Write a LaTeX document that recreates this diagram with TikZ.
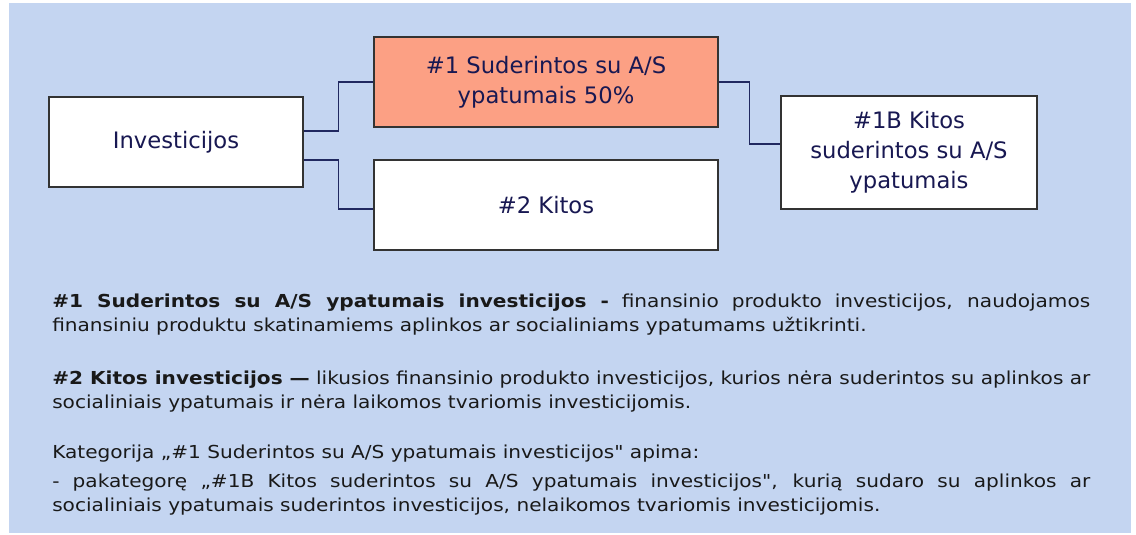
\documentclass[tikz,border=0pt]{standalone}
\usepackage{fontspec}
\setmainfont{DejaVu Sans}
\newfontfamily\notefont{DejaVu Sans}[FakeStretch=1.125]
\usepackage{tikz}
\usetikzlibrary{calc}
\definecolor{skyband}{RGB}{196, 213, 241}
\definecolor{salmon}{RGB}{252, 160, 132}
\definecolor{ink}{RGB}{24, 24, 82}
\definecolor{wire}{RGB}{32, 40, 96}

\begin{document}
\begin{tikzpicture}[x=0.75pt, y=-0.75pt,
  box/.style={draw=black!80, line width=0.9pt, fill=white, text=ink, align=center,
    inner sep=0pt, font=\fontsize{17}{22.5}\selectfont},
  link/.style={draw=wire, line width=0.9pt},
  para/.style={anchor=north west, inner sep=0pt, text width=778.5pt, align=justify,
    text=black!90, font=\notefont\fontsize{13.4}{18}\selectfont}]
  \useasboundingbox (0, 0) rectangle (1136, 535);
  \fill[skyband] (9, 3) rectangle (1131, 533);

  % the tree
  \node[box, minimum width=190.5pt, minimum height=67.5pt] (inv) at (176, 142) {Investicijos};
  \node[box, fill=salmon, minimum width=258pt, minimum height=67.5pt] (s1) at (546, 82)
    {\#1 Suderintos su A/S\\ ypatumais 50\%};
  \node[box, minimum width=258pt, minimum height=67.5pt] (k2) at (546, 205) {\#2 Kitos};
  \node[box, minimum width=192pt, minimum height=84.75pt] (s1b) at (909, 152.5)
    {\#1B Kitos\\ suderintos su A/S\\ ypatumais};

  \coordinate (fork) at ($(inv.east)!0.5!(s1.west |- inv.east)$);
  \coordinate (fork2) at ($(s1.east)!0.5!(s1b.west |- s1.east)$);
  \coordinate (k2in) at ([yshift=-3pt]k2.west);
  \coordinate (s1bin) at ([yshift=6.4pt]s1b.west);
  \draw[link] ([yshift=8.25pt]inv.east) -| (fork |- s1.west) -- (s1.west);
  \draw[link] ([yshift=-13.5pt]inv.east) -| (fork |- k2in) -- (k2in);
  \draw[link] (s1.east) -| (fork2 |- s1bin) -- (s1bin);

  % the notes
  \node[para] (n1) at (52, 294) {\textbf{\#1 Suderintos su A/S ypatumais investicijos -} finansinio
    produkto investicijos, naudojamos\linebreak finansiniu produktu skatinamiems aplinkos ar
    socialiniams ypatumams užtikrinti.};
  \node[para] (n2) at (52, 371) {\textbf{\#2 Kitos investicijos —} likusios finansinio produkto
    investicijos, kurios nėra suderintos su aplinkos ar\linebreak socialiniais ypatumais ir nėra
    laikomos tvariomis investicijomis.};
  \node[para] (n3) at (52, 445) {Kategorija „\#1 Suderintos su A/S ypatumais investicijos" apima:};
  \node[para] (n4) at (52, 474) {- pakategorę „\#1B Kitos suderintos su A/S ypatumais
    investicijos", kurią sudaro su aplinkos ar\linebreak socialiniais ypatumais suderintos
    investicijos, nelaikomos tvariomis investicijomis.};
\end{tikzpicture}
\end{document}
